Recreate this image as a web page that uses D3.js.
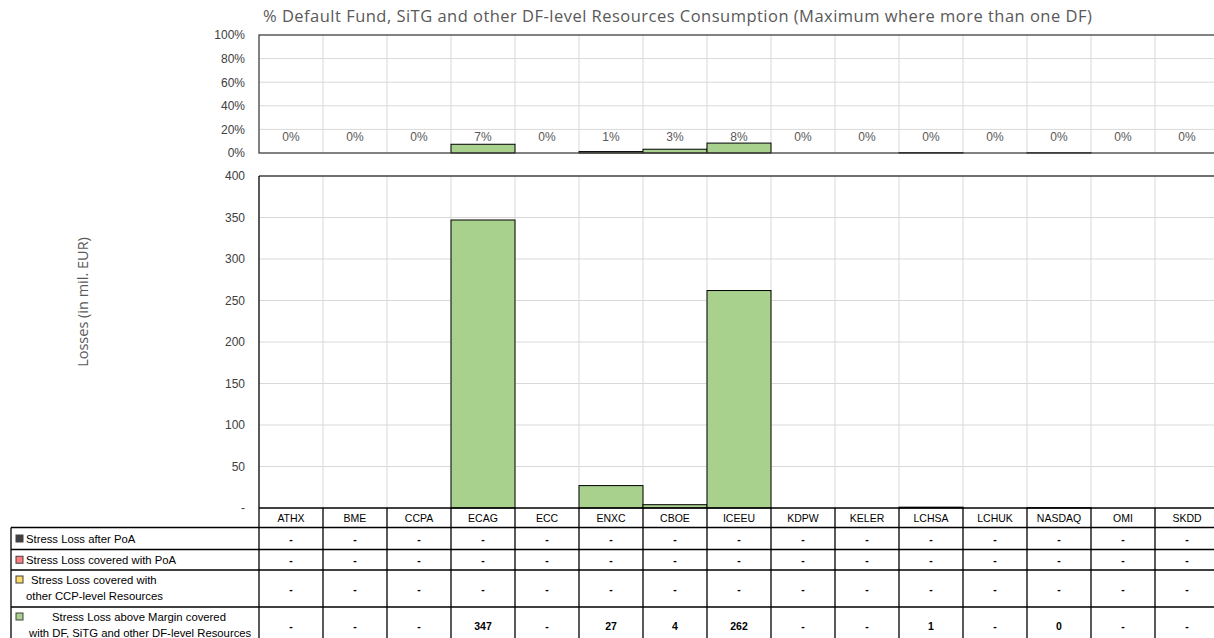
<!DOCTYPE html>
<html>
<head>
<meta charset="utf-8">
<script src="https://cdn.jsdelivr.net/npm/d3@7"></script>
<style>
  body { margin: 0; background: #fff; }
  svg { display: block; font-family: "Liberation Sans", Arial, sans-serif; }
</style>
</head>
<body>
<div class="canvas"></div>
<script>
// data
const categories = ['ATHX', 'BME', 'CCPA', 'ECAG', 'ECC', 'ENXC', 'CBOE', 'ICEEU', 'KDPW', 'KELER', 'LCHSA', 'LCHUK', 'NASDAQ', 'OMI', 'SKDD'];
const lossAfterPoA = [0, 0, 0, 0, 0, 0, 0, 0, 0, 0, 0, 0, 0, 0, 0];
const lossCoveredPoA = [0, 0, 0, 0, 0, 0, 0, 0, 0, 0, 0, 0, 0, 0, 0];
const lossOtherCCP = [0, 0, 0, 0, 0, 0, 0, 0, 0, 0, 0, 0, 0, 0, 0];
const lossDF = [0, 0, 0, 347, 0, 27, 4, 262, 0, 0, 1, 0, 0.4, 0, 0];
const dfConsumption = [0, 0, 0, 0.074, 0, 0.012, 0.032, 0.084, 0, 0, 0.003, 0, 0.002, 0, 0];
const pctTicks = [0, 0.2, 0.4, 0.6, 0.8, 1];
const lossTicks = [0, 50, 100, 150, 200, 250, 300, 350, 400];

const seriesNames = [
  ['Stress Loss after PoA'],
  ['Stress Loss covered with PoA'],
  ['Stress Loss covered with', 'other CCP-level Resources'],
  ['Stress Loss above Margin covered', 'with DF, SiTG and other DF-level Resources']
];
const seriesValues = [lossAfterPoA, lossCoveredPoA, lossOtherCCP, lossDF];
const seriesColors = ['#404040', '#ff7c80', '#ffd966', '#a9d18e'];

const width = 1214, height = 638;
const svg = d3.select('.canvas')
    .append('svg')
    .attr('width', width)
    .attr('height', height);

// scales
const x = d3.scaleBand()
    .domain(categories)
    .range([259, 1219])
    .padding(0);

const yPct = d3.scaleLinear().domain([0, 1]).range([153, 35]);
const yLoss = d3.scaleLinear().domain([0, 400]).range([508, 176]);

const gridColor = '#d9d9d9';
const textColor = '#404040';

// title
svg.append('text')
    .attr('x', 263)
    .attr('y', 22)
    .attr('fill', '#595959')
    .attr('font-family', '"Open Sans", sans-serif')
    .attr('font-size', 16.5)
    .attr('letter-spacing', 0.48)
    .text('% Default Fund, SiTG and other DF-level Resources Consumption (Maximum where more than one DF)');

// ---- top chart: % consumption ----
const pctChart = svg.append('g');

pctChart.selectAll('line.hgrid')
    .data(pctTicks.filter(d => d > 0 && d < 1))
    .enter().append('line')
    .attr('x1', x.range()[0]).attr('x2', x.range()[1])
    .attr('y1', d => yPct(d)).attr('y2', d => yPct(d))
    .attr('stroke', gridColor);

pctChart.selectAll('line.vgrid')
    .data(categories.slice(1))
    .enter().append('line')
    .attr('x1', d => x(d)).attr('x2', d => x(d))
    .attr('y1', yPct(1)).attr('y2', yPct(0))
    .attr('stroke', gridColor);

pctChart.selectAll('rect.bar')
    .data(dfConsumption.map((v, i) => ({cat: categories[i], v})).filter(d => d.v > 0))
    .enter().append('rect')
    .attr('x', d => x(d.cat))
    .attr('width', x.bandwidth())
    .attr('y', d => yPct(d.v))
    .attr('height', d => yPct(0) - yPct(d.v))
    .attr('fill', seriesColors[3])
    .attr('stroke', '#000')
    .attr('stroke-width', 1);

pctChart.append('rect')
    .attr('x', x.range()[0]).attr('y', yPct(1))
    .attr('width', x.range()[1] - x.range()[0])
    .attr('height', yPct(0) - yPct(1))
    .attr('fill', 'none')
    .attr('stroke', textColor)
    .attr('stroke-width', 1.3);

// consumption labels sit on one line just above the bars
pctChart.selectAll('text.pct')
    .data(dfConsumption)
    .enter().append('text')
    .attr('x', (d, i) => x(categories[i]) + x.bandwidth() / 2)
    .attr('y', yPct(0.13))
    .attr('text-anchor', 'middle')
    .attr('dominant-baseline', 'middle')
    .attr('font-size', 12)
    .attr('fill', '#595959')
    .text(d => d3.format('.0%')(d));

const yPctAxis = d3.axisLeft(yPct)
    .tickValues(pctTicks)
    .tickSize(0)
    .tickPadding(14)
    .tickFormat(d3.format('.0%'));

pctChart.append('g')
    .attr('transform', `translate(${x.range()[0]},0)`)
    .call(yPctAxis)
    .call(g => g.select('.domain').remove())
    .selectAll('text')
    .attr('font-size', 12)
    .attr('font-family', '"Liberation Sans", Arial, sans-serif')
    .attr('fill', textColor);

// ---- bottom chart: losses ----
const lossChart = svg.append('g');

lossChart.selectAll('line.hgrid')
    .data(lossTicks.filter(d => d > 0 && d < 400))
    .enter().append('line')
    .attr('x1', x.range()[0]).attr('x2', x.range()[1])
    .attr('y1', d => yLoss(d)).attr('y2', d => yLoss(d))
    .attr('stroke', gridColor);

lossChart.selectAll('line.vgrid')
    .data(categories.slice(1))
    .enter().append('line')
    .attr('x1', d => x(d)).attr('x2', d => x(d))
    .attr('y1', yLoss(400)).attr('y2', yLoss(0))
    .attr('stroke', gridColor);

const stackData = categories.map((c, i) => {
  const row = {cat: c};
  seriesValues.forEach((vals, k) => { row['s' + k] = vals[i]; });
  return row;
});
// DF layer at the bottom, after-PoA on top
const stack = d3.stack().keys(['s3', 's2', 's1', 's0']);
const layers = stack(stackData);

lossChart.selectAll('g.layer')
    .data(layers)
    .enter().append('g')
    .attr('fill', d => seriesColors[+d.key.slice(1)])
    .selectAll('rect')
    .data(d => d.filter(p => p[1] - p[0] > 0))
    .enter().append('rect')
    .attr('x', d => x(d.data.cat))
    .attr('width', x.bandwidth())
    .attr('y', d => yLoss(d[1]))
    .attr('height', d => yLoss(d[0]) - yLoss(d[1]))
    .attr('stroke', '#000')
    .attr('stroke-width', 1);

lossChart.append('line')
    .attr('x1', x.range()[0]).attr('x2', x.range()[1])
    .attr('y1', yLoss(400)).attr('y2', yLoss(400))
    .attr('stroke', textColor).attr('stroke-width', 1.3);
lossChart.append('line')
    .attr('x1', x.range()[0]).attr('x2', x.range()[0])
    .attr('y1', yLoss(400)).attr('y2', yLoss(0))
    .attr('stroke', '#000').attr('stroke-width', 1.3);

const yLossAxis = d3.axisLeft(yLoss)
    .tickValues(lossTicks)
    .tickSize(0)
    .tickPadding(14)
    .tickFormat(d => d === 0 ? '-' : d);

lossChart.append('g')
    .attr('transform', `translate(${x.range()[0]},0)`)
    .call(yLossAxis)
    .call(g => g.select('.domain').remove())
    .selectAll('text')
    .attr('font-size', 12)
    .attr('font-family', '"Liberation Sans", Arial, sans-serif')
    .attr('fill', textColor);

svg.append('text')
    .attr('transform', 'translate(88,302) rotate(-90)')
    .attr('text-anchor', 'middle')
    .attr('fill', '#595959')
    .attr('font-family', '"Open Sans", sans-serif')
    .attr('font-size', 14.5)
    .text('Losses (in mil. EUR)');

// ---- data table ----
const rowEdges = [508, 527.5, 549.5, 570, 607, 660];
const table = svg.append('g');
const tableLeft = 11;

// header row with categories
table.selectAll('text.cat')
    .data(categories)
    .enter().append('text')
    .attr('x', d => x(d) + x.bandwidth() / 2)
    .attr('y', (rowEdges[0] + rowEdges[1]) / 2)
    .attr('text-anchor', 'middle')
    .attr('dominant-baseline', 'central')
    .attr('font-size', 10.5)
    .attr('fill', '#000')
    .text(d => d);

// horizontal lines
table.selectAll('line.row')
    .data(rowEdges.slice(0, 5))
    .enter().append('line')
    .attr('x1', (d, i) => i === 0 ? x.range()[0] : tableLeft)
    .attr('x2', x.range()[1])
    .attr('y1', d => d).attr('y2', d => d)
    .attr('stroke', '#000').attr('stroke-width', 1.3);

// vertical lines
table.selectAll('line.col')
    .data(categories)
    .enter().append('line')
    .attr('x1', d => x(d)).attr('x2', d => x(d))
    .attr('y1', rowEdges[0]).attr('y2', height)
    .attr('stroke', '#000').attr('stroke-width', 1.3);
table.append('line')
    .attr('x1', tableLeft).attr('x2', tableLeft)
    .attr('y1', rowEdges[1]).attr('y2', height)
    .attr('stroke', '#000').attr('stroke-width', 1.3);

const fmtLoss = v => v === 0 ? '-' : d3.format('.0f')(v);
const legendX = [[26], [26], [31, 26], [52, 29]];

seriesValues.forEach((vals, k) => {
  const r0 = rowEdges[k + 1];
  const r1 = Math.min(rowEdges[k + 2], height);
  const rowMid = (r0 + r1) / 2;
  const lines = seriesNames[k];
  const lineY = lines.length === 1 ? [rowMid] : [r0 + 9.5, r0 + 26];

  table.append('rect')
      .attr('x', 16).attr('y', lineY[0] - 3.5)
      .attr('width', 7).attr('height', 7)
      .attr('fill', seriesColors[k])
      .attr('stroke', '#404040').attr('stroke-width', 1);

  lines.forEach((t, j) => {
    table.append('text')
        .attr('x', legendX[k][j])
        .attr('y', lineY[j])
        .attr('dominant-baseline', 'central')
        .attr('font-size', 11.3)
        .attr('fill', '#000')
        .text(t);
  });

  table.selectAll('text.v' + k)
      .data(vals)
      .enter().append('text')
      .attr('x', (d, i) => x(categories[i]) + x.bandwidth() / 2)
      .attr('y', k === 3 ? r0 + 19 : rowMid)
      .attr('text-anchor', 'middle')
      .attr('dominant-baseline', 'central')
      .attr('font-size', 10.5)
      .attr('font-weight', 'bold')
      .attr('fill', '#000')
      .text(d => fmtLoss(d));
});
</script>
</body>
</html>
